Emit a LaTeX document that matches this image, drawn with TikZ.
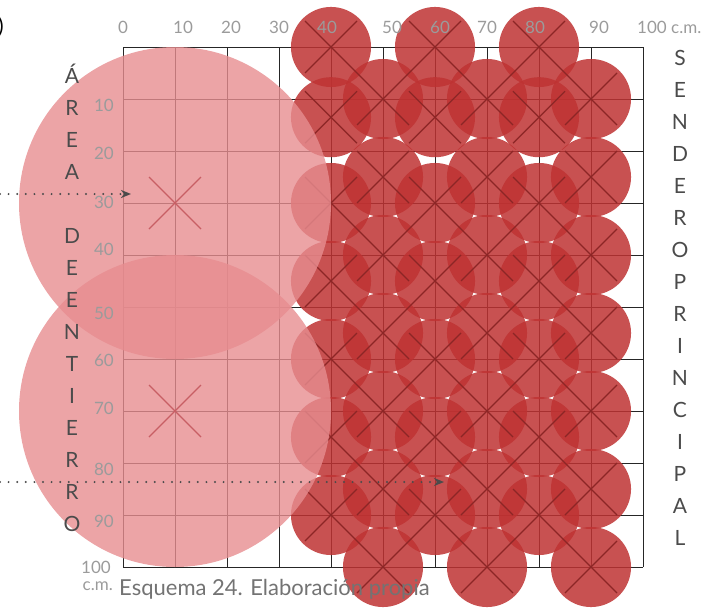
\documentclass[tikz,border=0pt]{standalone}
\usepackage{fontspec}
\setmainfont{Lato}
\usetikzlibrary{arrows.meta,positioning}

\definecolor{gridline}{RGB}{38,38,38}
\definecolor{plantred}{RGB}{190,50,50}
\definecolor{plantcross}{RGB}{140,38,38}
\definecolor{burialpink}{RGB}{231,141,144}
\definecolor{burialcross}{RGB}{200,95,100}
\definecolor{axisgray}{RGB}{155,155,155}
\definecolor{lettergray}{RGB}{75,75,75}
\definecolor{captiongray}{RGB}{115,115,115}

\tikzset{
  plant/.style={fill=plantred,fill opacity=0.85},
  burial/.style={fill=burialpink,fill opacity=0.8},
  cross/.style={draw=plantcross,line width=1.2pt},
  bcross/.style={draw=burialcross,line width=1.2pt},
  tick/.style={text=axisgray,font=\fontsize{17}{17}\selectfont,inner sep=0pt},
  letter/.style={text=lettergray,font=\fontsize{21}{21}\selectfont,inner sep=0pt,anchor=base},
  guide/.style={draw=lettergray,line width=2.2pt,dash pattern=on 0pt off 8.6pt,line cap=round,
    -{Stealth[length=10pt,width=8pt,inset=3pt]}},
}

\begin{document}
\begin{tikzpicture}[x=1pt,y=-1pt]
\useasboundingbox (0,0) rectangle (717,608);

% grid, 10 c.m. per square
\begin{scope}[shift={(123,47)},x=5.2pt,y=-5.2pt]
\foreach \k in {0,10,...,100} {
  \draw[gridline,line width=1pt] (\k,0) -- (\k,100);
  \draw[gridline,line width=1pt] (0,\k) -- (100,\k);
}
% plants
\foreach \cx in {40,60,80}
  \foreach \cy in {0,13.5,30,45,60,75,90}
    \fill[plant] (\cx,\cy) circle[radius=7.7];
\foreach \cx in {50,70,90}
  \foreach \cy in {10,25,...,100}
    \fill[plant] (\cx,\cy) circle[radius=7.7];
\foreach \cx in {40,60,80}
  \foreach \cy in {0,13.5,30,45,60,75,90}
    \draw[cross] ({\cx-5},{\cy-5}) -- ({\cx+5},{\cy+5}) ({\cx-5},{\cy+5}) -- ({\cx+5},{\cy-5});
\foreach \cx in {50,70,90}
  \foreach \cy in {10,25,...,100}
    \draw[cross] ({\cx-5},{\cy-5}) -- ({\cx+5},{\cy+5}) ({\cx-5},{\cy+5}) -- ({\cx+5},{\cy-5});
% burial area
\fill[burial] (10,30) circle[radius=30];
\fill[burial] (10,70) circle[radius=30];
\foreach \cy in {30,70}
  \draw[bcross] (5,{\cy-5}) -- (15,{\cy+5}) (5,{\cy+5}) -- (15,{\cy-5});
\end{scope}

% access arrows
\coordinate (src1) at (0,194);
\coordinate (dst1) at (131,194);
\coordinate (src2) at (0,482);
\coordinate (dst2) at (444,482);
\draw[guide] (src1) -- (dst1);
\draw[guide] (src2) -- (dst2);

% scales
\foreach \v/\px in {0/123,10/183,20/231,30/279,40/327,50/392,60/440,70/487,80/535,90/599}
  \node[tick] (top\v) at (\px,27) {\v};
\node[tick,anchor=west] (top100) at (637,27) {100 c.m.};
\foreach \v/\py in {10/105,20/153,30/202,40/249,50/313,60/360,70/408,80/469,90/521}
  \node[tick,anchor=east] (left\v) at (114,\py) {\v};
\node[tick,anchor=east] (left100) at (111,567) {100};
\node[tick,anchor=east] (unit) at (113,586) {c.m.};

% vertical titles
\foreach \l [count=\i] in {Á,R,E,A,{},D,E,E,N,T,I,E,R,R,O}
  \node[letter] (area\i) at (72,{83+32*(\i-1)}) {\l};
\foreach \l [count=\i] in {S,E,N,D,E,R,O,P,R,I,N,C,I,P,A,L}
  \node[letter] (path\i) at (680,{65.5+32*(\i-1)}) {\l};

\node[anchor=base west,inner sep=0pt,text=captiongray,font=\fontsize{22}{22}\selectfont]
  (caption) at (119,595) {Esquema 24. Elaboración propia};
\node[anchor=east,inner sep=0pt,font=\fontsize{21}{21}\selectfont] (mark) at (4,27) {)};
\end{tikzpicture}
\end{document}
